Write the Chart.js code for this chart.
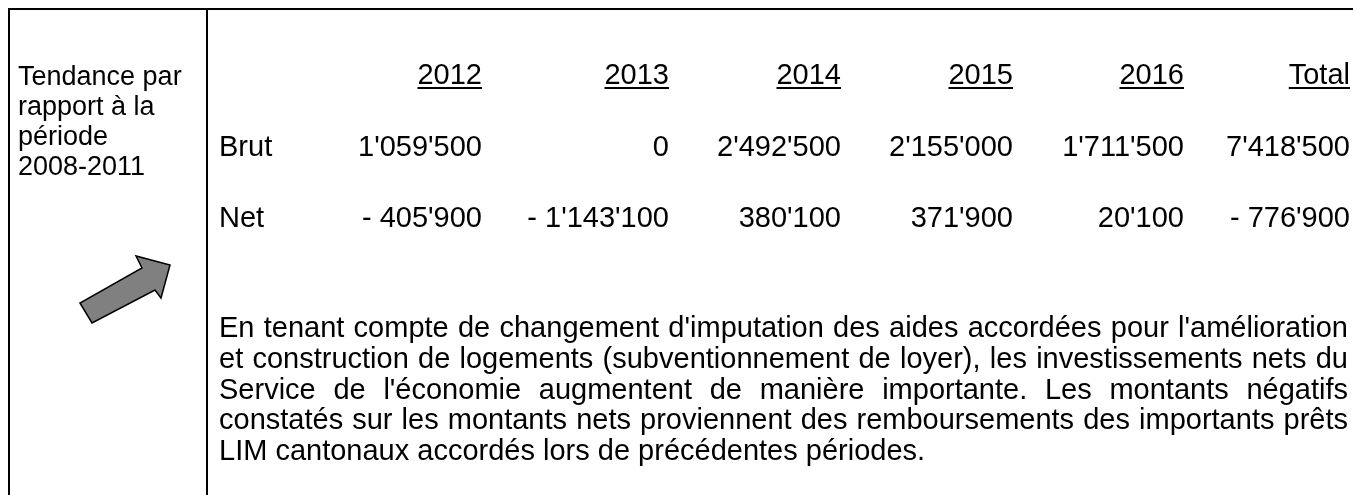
<!DOCTYPE html>
<html>
<head>
<meta charset="utf-8">
<script src="https://cdn.jsdelivr.net/npm/chart.js@4/dist/chart.umd.min.js"></script>
<style>
  html, body { margin: 0; padding: 0; background: #fff; }
  #wrap { width: 1353px; height: 495px; }
</style>
</head>
<body>
<div id="wrap"><canvas id="tableau" width="1353" height="495"></canvas></div>
<script>
// données du tableau
const annees = ['2012', '2013', '2014', '2015', '2016', 'Total'];
const brut = [1059500, 0, 2492500, 2155000, 1711500, 7418500];
const net = [-405900, -1143100, 380100, 371900, 20100, -776900];
const lignes = ['Brut', 'Net'];
const tendance = ['Tendance par', 'rapport à la', 'période', '2008-2011'];
const commentaire = [
    "En tenant compte de changement d'imputation des aides accordées pour l'amélioration",
    "et construction de logements (subventionnement de loyer), les investissements nets du",
    "Service de l'économie augmentent de manière importante. Les montants négatifs",
    "constatés sur les montants nets proviennent des remboursements des importants prêts",
    "LIM cantonaux accordés lors de précédentes périodes."
];

// mise en page (unités des axes = pixels de la page)
const W = 1353, H = 495;
const colDroite = [482, 669, 841, 1013, 1184, 1350];
const yTete = 84, yBrut = 156, yNet = 227;
const xLibelle = 219;
const yTendance = [85, 115, 145, 175];
const yComment = [337, 368, 399, 429, 460];
const xCommentFin = 1348;
const fleche = [[80, 303], [92, 323], [155, 290], [161, 298], [170, 265], [136, 256], [142, 268]];

const police = 'Liberation Sans, Arial, sans-serif';

function fmt(v) {
    const s = Math.abs(v).toString().replace(/\B(?=(\d{3})+(?!\d))/g, "'");
    return v < 0 ? '- ' + s : s;
}

function rangee(y) {
    return colDroite.map(x => ({ x: x, y: y }));
}

const textes = [annees, brut.map(fmt), net.map(fmt)];

const pluginTableau = {
    id: 'pluginTableau',
    afterDatasetsDraw(chart) {
        const ctx = chart.ctx;
        const sx = chart.scales.x, sy = chart.scales.y;
        const px = v => sx.getPixelForValue(v);
        const py = v => sy.getPixelForValue(v);
        ctx.save();
        ctx.fillStyle = '#000';
        ctx.strokeStyle = '#000';

        // cadres
        ctx.lineWidth = 2;
        ctx.beginPath();
        ctx.moveTo(px(8), py(9)); ctx.lineTo(px(W), py(9));
        ctx.moveTo(px(9), py(8)); ctx.lineTo(px(9), py(H));
        ctx.moveTo(px(207), py(8)); ctx.lineTo(px(207), py(H));
        ctx.stroke();

        // cellules
        ctx.font = '29px ' + police;
        ctx.textBaseline = 'alphabetic';
        ctx.textAlign = 'right';
        chart.data.datasets.forEach((ds, i) => {
            const meta = chart.getDatasetMeta(i);
            meta.data.forEach((pt, j) => {
                const t = textes[i][j];
                ctx.fillText(t, pt.x, pt.y);
                if (i === 0) {
                    const w = ctx.measureText(t).width;
                    ctx.fillRect(pt.x - w, pt.y + 3, w, 2);
                }
            });
        });

        ctx.textAlign = 'left';
        ctx.fillText(lignes[0], px(xLibelle), py(yBrut));
        ctx.fillText(lignes[1], px(xLibelle), py(yNet));

        // commentaire justifié
        const largeur = px(xCommentFin) - px(xLibelle);
        commentaire.forEach((l, k) => {
            const y = py(yComment[k]);
            if (k === commentaire.length - 1) {
                ctx.fillText(l, px(xLibelle), y);
                return;
            }
            const mots = l.split(' ');
            const total = mots.reduce((s, m) => s + ctx.measureText(m).width, 0);
            const ecart = (largeur - total) / (mots.length - 1);
            let x = px(xLibelle);
            mots.forEach(m => {
                ctx.fillText(m, x, y);
                x += ctx.measureText(m).width + ecart;
            });
        });

        // colonne de gauche
        ctx.font = '27px ' + police;
        tendance.forEach((l, k) => ctx.fillText(l, px(18), py(yTendance[k])));

        // flèche
        ctx.beginPath();
        fleche.forEach((p, k) => {
            if (k === 0) ctx.moveTo(px(p[0]), py(p[1]));
            else ctx.lineTo(px(p[0]), py(p[1]));
        });
        ctx.closePath();
        ctx.fillStyle = '#808080';
        ctx.fill();
        ctx.lineWidth = 1.5;
        ctx.lineJoin = 'miter';
        ctx.stroke();

        ctx.restore();
    }
};

const graphique = new Chart(document.getElementById('tableau'), {
    type: 'scatter',
    data: {
        datasets: [
            { label: 'années', data: rangee(yTete), pointRadius: 0 },
            { label: 'Brut', data: rangee(yBrut), pointRadius: 0 },
            { label: 'Net', data: rangee(yNet), pointRadius: 0 }
        ]
    },
    options: {
        responsive: false,
        animation: false,
        events: [],
        layout: { padding: 0 },
        plugins: { legend: { display: false }, tooltip: { enabled: false } },
        scales: {
            x: { type: 'linear', min: 0, max: W, display: false },
            y: { type: 'linear', min: 0, max: H, reverse: true, display: false }
        }
    },
    plugins: [pluginTableau]
});
</script>
</body>
</html>
